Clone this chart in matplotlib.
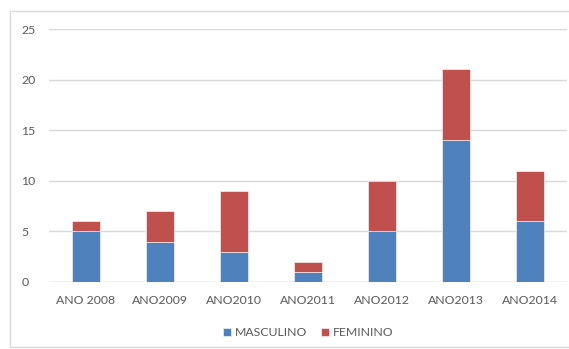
import matplotlib.pyplot as plt
import matplotlib.patches as mpatches
import numpy as np

plt.rcParams['font.family'] = ['Lato', 'DejaVu Sans']

categories = ["ANO 2008", "ANO2009", "ANO2010", "ANO2011", "ANO2012", "ANO2013", "ANO2014"]
masculino = [5, 4, 3, 1, 5, 14, 6]
feminino = [1, 3, 6, 1, 5, 7, 5]

blue = "#4F81BD"
red = "#C0504D"
text_col = "#595959"
grid_col = "#D9D9D9"

W, H = 569, 349
fig = plt.figure(figsize=(W / 100, H / 100), dpi=100)

# outer chart border
fig.patches.append(mpatches.Rectangle((10 / W, 2 / H), 560 / W, (H - 13) / H,
                                      transform=fig.transFigure, fill=False,
                                      edgecolor=grid_col, linewidth=1))

ax = fig.add_axes([49 / W, (H - 282) / H, 518 / W, 253 / H])
x = np.arange(len(categories))
ax.bar(x, masculino, width=0.39, color=blue, edgecolor="white", linewidth=0.4,
       label="MASCULINO", zorder=3)
ax.bar(x, feminino, width=0.39, bottom=masculino, color=red, edgecolor="white",
       linewidth=0.4, label="FEMININO", zorder=3)

ax.set_xlim(-0.5, len(categories) - 0.5)
ax.set_ylim(0, 25)
ax.set_yticks([0, 5, 10, 15, 20, 25])
ax.set_xticks(x)
ax.set_xticklabels(categories)
ax.tick_params(length=0, labelsize=8.8, colors=text_col)
ax.tick_params(axis="x", pad=9)
ax.tick_params(axis="y", pad=20)
for lab in ax.get_yticklabels():
    lab.set_horizontalalignment("left")
ax.grid(axis="y", color=grid_col, linewidth=1, zorder=0)
for s in ax.spines.values():
    s.set_visible(False)
ax.axhline(0, color=grid_col, linewidth=1, zorder=2)

ax.legend(loc="center", bbox_to_anchor=(0.5, -51 / 253), ncol=2, frameon=False,
          fontsize=8.8, labelcolor=text_col, handlelength=0.65, handleheight=0.65,
          handletextpad=0.35, columnspacing=1.1)

fig.savefig("out.png", dpi=100)
